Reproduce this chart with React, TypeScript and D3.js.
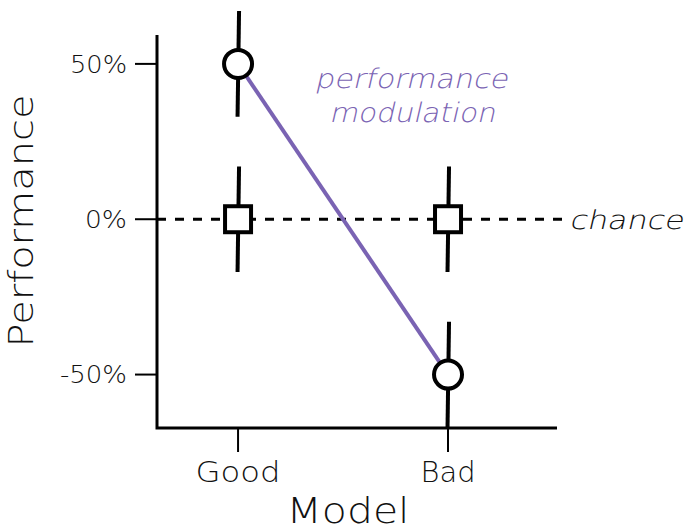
import React from "react";
import * as d3 from "d3";

const categories = ["Good", "Bad"];
const performance = [50, -50];
const chanceLevel = [0, 0];
const errPerf = [17, 17];
const errChance = [17, 17];
const yTicks = [50, 0, -50];
const yTickWidths = [57, 42, 67];
const xTickWidths = [85, 55];

const W = 688, H = 530;
const FONT = "'DejaVu Sans', sans-serif";

export default function App() {
  const x = d3.scaleLinear().domain([-0.386, 1.519]).range([157, 557]);
  const y = d3.scaleLinear().domain([-67.2, 59.3]).range([428, 35]);
  const purple = "#7a63b3";
  const line = d3.line<number>().x((_, i) => x(i)).y((d) => y(d));
  const adj = "spacingAndGlyphs";
  const oblique = (tx: number, ty: number) => `translate(${tx},${ty}) skewX(-13)`;
  return (
    <svg width={W} height={H} style={{ position: "absolute", left: 0, top: 0, background: "#fff" }}>
      {/* axes */}
      <path d={`M${x(-0.386)},${y(59.3)} V${y(-67.2)} H${x(1.519)}`} fill="none" stroke="#000" strokeWidth={3} />
      {yTicks.map((t, i) => (
        <g key={t}>
          <line x1={135} x2={157} y1={y(t)} y2={y(t)} stroke="#000" strokeWidth={2} />
          <text x={127} y={y(t)} dy="0.36em" textAnchor="end" fontFamily={FONT} fontWeight={300} fontSize={24} fill="#111"
            textLength={yTickWidths[i]} lengthAdjust={adj}>
            {t + "%"}
          </text>
        </g>
      ))}
      {categories.map((c, i) => (
        <g key={c}>
          <line x1={x(i)} x2={x(i)} y1={y(-67.2)} y2={y(-67.2) + 24} stroke="#000" strokeWidth={2} />
          <text x={x(i)} y={482} textAnchor="middle" fontFamily={FONT} fontWeight={300} fontSize={29} fill="#111"
            textLength={xTickWidths[i]} lengthAdjust={adj}>
            {c}
          </text>
        </g>
      ))}
      <text x={348} y={523} textAnchor="middle" fontFamily={FONT} fontWeight={300} fontSize={35} fill="#111"
        textLength={123} lengthAdjust={adj}>Model</text>
      <text transform={`translate(33,221) rotate(-90)`} textAnchor="middle" fontFamily={FONT} fontWeight={300} fontSize={34} fill="#111"
        textLength={253} lengthAdjust={adj}>
        Performance
      </text>
      {/* chance line */}
      <line x1={157} x2={562} y1={y(0)} y2={y(0)} stroke="#000" strokeWidth={3} strokeDasharray="9 9" />
      <text transform={oblique(569, 229)} fontFamily={FONT} fontWeight={300} fontSize={26} fill="#111"
        textLength={114} lengthAdjust={adj}>chance</text>
      {/* modulation line */}
      <path d={line(performance) || ""} fill="none" stroke={purple} strokeWidth={4} />
      <text transform={oblique(411, 88)} textAnchor="middle" fontFamily={FONT} fontWeight={300} fontSize={27} fill={purple}
        textLength={193} lengthAdjust={adj}>performance</text>
      <text transform={oblique(412, 122)} textAnchor="middle" fontFamily={FONT} fontWeight={300} fontSize={27} fill={purple}
        textLength={166} lengthAdjust={adj}>modulation</text>
      {/* chance squares */}
      {chanceLevel.map((v, i) => (
        <g key={"s" + i}>
          <line x1={x(i) + 1} x2={x(i) - 0.5} y1={y(v + errChance[i])} y2={y(v - errChance[i])} stroke="#000" strokeWidth={4} />
          <rect x={x(i) - 13} y={y(v) - 13} width={26} height={26} fill="#fff" stroke="#000" strokeWidth={4} />
        </g>
      ))}
      {/* performance circles */}
      {performance.map((v, i) => (
        <g key={"c" + i}>
          <line x1={x(i) + 1} x2={x(i) - 0.5} y1={y(v + errPerf[i])} y2={y(v - errPerf[i])} stroke="#000" strokeWidth={4} />
          <circle cx={x(i)} cy={y(v)} r={14} fill="#fff" stroke="#000" strokeWidth={4} />
        </g>
      ))}
    </svg>
  );
}
